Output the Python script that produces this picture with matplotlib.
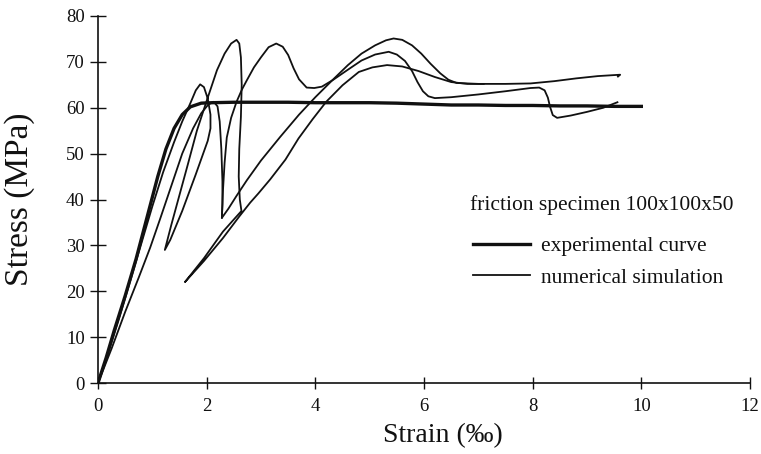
import matplotlib
matplotlib.use("Agg")
import matplotlib.pyplot as plt

plt.rcParams['font.family'] = ['Liberation Serif', 'DejaVu Serif']

# experimental curve (thick)
exp_strain = [0, 0.15, 0.3, 0.5, 0.7, 0.9, 1.1, 1.25, 1.4, 1.55, 1.7, 1.9, 2.1, 2.5, 3.0, 3.5,
              4.0, 4.5, 5.0, 5.5, 6.0, 6.5, 7.0, 7.5, 8.0, 8.5, 9.0, 9.5, 10.0]
exp_stress = [0, 5.5, 11.5, 19, 27, 36, 45, 51, 55.5, 58.5, 60.2, 61.0, 61.1, 61.2, 61.2, 61.2,
              61.1, 61.1, 61.1, 61.0, 60.8, 60.6, 60.6, 60.5, 60.5, 60.4, 60.4, 60.3, 60.3]

# numerical simulations (thin), with snap-back loops
sim1_strain = [0, 0.2, 0.4, 0.6, 0.8, 1.0, 1.2, 1.4, 1.55, 1.7, 1.8, 1.88, 1.95, 2.02, 2.07,
               2.07, 2.02, 1.8, 1.55, 1.33, 1.23, 1.35, 1.5, 1.65, 1.82, 2.0, 2.19, 2.33, 2.45,
               2.55, 2.6, 2.63, 2.645, 2.63, 2.6, 2.59, 2.61, 2.64, 2.3, 1.95, 1.6, 1.95, 2.3,
               2.6, 2.8, 2.95, 3.17, 3.45, 3.69, 3.95, 4.2, 4.5, 4.8, 5.05, 5.32, 5.6, 5.9, 6.2,
               6.5, 6.8, 7.1]
sim1_stress = [0, 7, 14.5, 22.5, 30.5, 38.5, 46, 52.5, 57, 61, 63.8, 65.1, 64.5, 62, 58.5,
               55.5, 52.8, 45.5, 37.5, 31.2, 29, 34.5, 41, 47.5, 55, 61.5, 68.2, 71.8, 74.0,
               74.8, 74.0, 71, 65, 58, 51, 45, 40, 37.5, 33.0, 27.2, 22, 26.6, 31.6,
               36.3, 39.3, 41.3, 44.4, 48.7, 53.3, 57.5, 61.3, 64.9, 67.8, 68.8, 69.3, 69.0, 68.0, 66.7,
               65.6, 65.2, 65.2]

sim2_strain = [0, 0.25, 0.5, 0.75, 0.96, 1.15, 1.35, 1.55, 1.75, 1.9, 2.03, 2.13, 2.2, 2.24,
               2.27, 2.29, 2.29, 2.28, 2.4, 2.55, 2.74, 3.0, 3.35, 3.7, 4.0, 4.33, 4.6, 4.85,
               5.1, 5.3, 5.44, 5.6, 5.78, 5.95, 6.12, 6.3, 6.45, 6.6, 7.0, 7.5, 7.96, 8.4, 8.8,
               9.2, 9.61, 9.57]
sim2_stress = [0, 7.5, 15.5, 23, 29.5, 36, 43, 50, 55.5, 58.8, 60.7, 61.3, 60.3, 57,
               51, 44, 39, 36, 38, 40.8, 44.2, 48.5, 53.6, 58.5, 62.3, 66.2, 69.3, 71.8,
               73.6, 74.7, 75.1, 74.8, 73.6, 71.8, 69.6, 67.5, 66.1, 65.4, 65.2, 65.2, 65.3, 65.8, 66.4,
               66.9, 67.2, 66.8]

sim3_strain = [2.28, 2.3, 2.33, 2.37, 2.45, 2.55, 2.65, 2.74, 2.87, 3.0, 3.14, 3.28, 3.4, 3.5,
               3.6, 3.7, 3.84, 3.98, 4.12, 4.33, 4.6, 4.85, 5.1, 5.35, 5.5, 5.65, 5.78, 5.88,
               5.98, 6.08, 6.2, 6.5, 7.0, 7.5, 7.96, 8.12, 8.22, 8.28, 8.32, 8.37, 8.45, 8.7,
               9.0, 9.3, 9.56]
sim3_stress = [36, 42, 48, 53.5, 57.8, 61.3, 64, 66, 68.8, 71, 73.2, 74, 73.3, 71.5,
               68.6, 66.2, 64.4, 64.3, 64.6, 66.1, 68.3, 70.3, 71.6, 72.2, 71.6, 70.2, 68, 65.6,
               63.6, 62.5, 62.1, 62.3, 62.9, 63.6, 64.3, 64.4, 63.8, 62.2, 60.2, 58.4, 57.8, 58.3,
               59.1, 60.0, 61.2]

xticks = [0, 2, 4, 6, 8, 10, 12]
yticks = [0, 10, 20, 30, 40, 50, 60, 70, 80]

W, H = 761, 454
fig = plt.figure(figsize=(W / 100, H / 100), dpi=100)
ax = fig.add_axes([98 / W, 1 - 383 / H, 652 / W, 367 / H])

ink = '#111111'
ax.plot(exp_strain, exp_stress, color=ink, lw=2.4, label='experimental curve')
ax.plot(sim1_strain, sim1_stress, color=ink, lw=1.3, label='numerical simulation')
ax.plot(sim2_strain, sim2_stress, color=ink, lw=1.3, label='_nolegend_')
ax.plot(sim3_strain, sim3_stress, color=ink, lw=1.3, label='_nolegend_')

ax.set_xlim(0, 12)
ax.set_ylim(0, 80)
ax.set_xticks(xticks)
ax.set_yticks(yticks)
ax.tick_params(axis='x', direction='inout', length=9, width=1, labelsize=13.5, pad=6, colors=ink)
ax.tick_params(axis='y', direction='inout', length=11, width=1, labelsize=13.5, pad=4, colors=ink)
for s in ['top', 'right']:
    ax.spines[s].set_visible(False)
for s in ['left', 'bottom']:
    ax.spines[s].set_color(ink)
    ax.spines[s].set_linewidth(1.2)

ax.set_xlabel('Strain (‰)', fontsize=20, color=ink)
ax.xaxis.set_label_coords(0.529, -0.11)
ax.set_ylabel('Stress (MPa)', fontsize=24, color=ink)
ax.yaxis.set_label_coords(-0.097, 0.5)

fig.text(470 / W, 1 - 205 / H, 'friction specimen 100x100x50', fontsize=15.5,
         color=ink, ha='left', va='center')
leg = ax.legend(loc='center left', bbox_to_anchor=(473 / W, 1 - 262 / H),
                bbox_transform=fig.transFigure, frameon=False, fontsize=15.5,
                borderpad=0, borderaxespad=0, handlelength=2.65, handletextpad=0.5,
                labelspacing=0.55)
for t in leg.get_texts():
    t.set_color(ink)

fig.savefig('out.png', dpi=100)
